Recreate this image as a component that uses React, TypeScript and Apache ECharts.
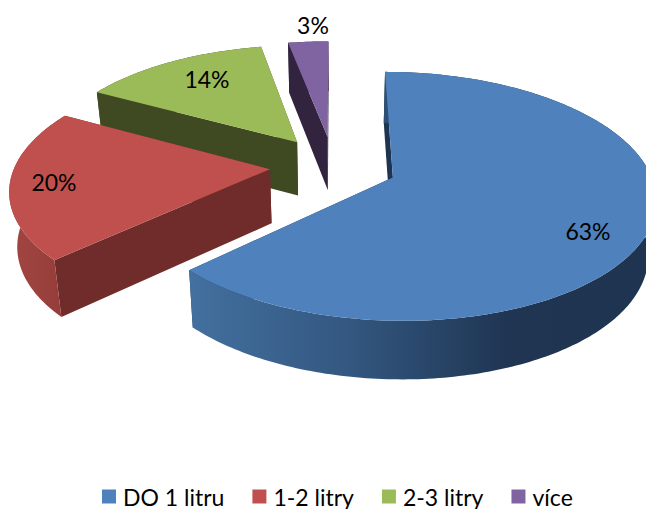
import React, { useEffect, useRef } from "react";
import * as echarts from "echarts";

// Volume categories and their shares in percent.
const categories = ["DO 1 litru", "1-2 litry", "2-3 litry", "více"];
const shares = [63, 20, 14, 3];

const topColors = ["#4F81BD", "#C0504D", "#9BBB59", "#8064A2"];
const wallColors = ["#1E3450", "#6F2C2A", "#3F4A22", "#32243F"];
const labelAnchors = [
  [588, 231],
  [54, 182],
  [207, 79],
  [313, 25],
];

// Tilted-disc projection: pixel radii, perspective strength, explosion, thickness.
const CX = 333.5;
const CY = 165.5;
const RX = 255;
const RY = 118;
const PERSPECTIVE = 0.15;
const EXPLODE = 0.25;
const DEPTH = 54;
const BASE_SHRINK = 0.025;

const total = shares.reduce((a, b) => a + b, 0);

const project = (u: number, v: number) => {
  const w = 1 + PERSPECTIVE * v;
  return [CX + (RX * u) / w, CY - (RY * v) / w, w];
};

const lower = (p: number[]) => [
  CX + (p[0] - CX) * (1 - BASE_SHRINK),
  p[1] + DEPTH / Math.pow(p[2], 0.45),
];

const rimGradient = (index: number) => {
  if (index === 0) {
    return new echarts.graphic.LinearGradient(
      190, 0, 646, 0,
      [
        { offset: 0, color: "#43709F" },
        { offset: 0.35, color: "#335780" },
        { offset: 0.7, color: "#1F3552" },
        { offset: 1, color: "#1E3450" },
      ],
      true
    );
  }
  if (index === 1) {
    return new echarts.graphic.LinearGradient(
      12, 0, 62, 0,
      [
        { offset: 0, color: "#A24542" },
        { offset: 1, color: "#953D3A" },
      ],
      true
    );
  }
  return wallColors[index];
};

const sliceRenderer = (index: number) => (_params: unknown, api: any) => {
  const value = api.value(0);
  const before = shares.slice(0, index).reduce((a, b) => a + b, 0);
  const start = (before / total) * Math.PI * 2;
  const end = start + (value / total) * Math.PI * 2;
  const mid = (start + end) / 2;
  const uc = EXPLODE * Math.sin(mid);
  const vc = EXPLODE * Math.cos(mid);

  const apex = project(uc, vc);
  const steps = Math.max(4, Math.round(((end - start) * 180) / Math.PI));
  const rim: number[][] = [];
  for (let i = 0; i <= steps; i++) {
    const a = start + ((end - start) * i) / steps;
    rim.push(project(uc + Math.sin(a), vc + Math.cos(a)));
  }
  const first = rim[0];
  const last = rim[rim.length - 1];
  const xy = (p: number[]) => [p[0], p[1]];
  const wall = (a: number[], b: number[]) => [xy(a), xy(b), lower(b), lower(a)];

  const polygon = (points: number[][], fill: unknown) => ({
    type: "polygon",
    shape: { points },
    style: { fill },
  });

  return {
    type: "group",
    children: [
      polygon(wall(apex, last), wallColors[index]),
      polygon(wall(apex, first), wallColors[index]),
      polygon([...rim.map(xy), ...rim.map(lower).reverse()], rimGradient(index)),
      polygon([xy(apex), ...rim.map(xy)], topColors[index]),
      {
        type: "text",
        style: {
          text: `${value}%`,
          x: labelAnchors[index][0],
          y: labelAnchors[index][1],
          fill: "#000000",
          font: "23px Lato",
          textAlign: "center",
          textVerticalAlign: "middle",
        },
      },
    ],
  };
};

export default function App() {
  const ref = useRef<HTMLDivElement>(null);

  useEffect(() => {
    const chart = echarts.init(ref.current, undefined, { renderer: "svg" });
    // Painted back to front so nearer slices cover farther ones.
    const order = categories.map((_, i) => i).reverse();
    chart.setOption({
      animation: false,
      backgroundColor: "#ffffff",
      legend: {
        data: categories,
        left: 102,
        top: 485,
        padding: 0,
        icon: "rect",
        itemWidth: 14,
        itemHeight: 14,
        itemGap: 28,
        textStyle: { fontFamily: "Lato", fontSize: 23, lineHeight: 23, color: "#000000", padding: [0, 0, 0, 2] },
      },
      series: order.map((i) => ({
        type: "custom",
        name: categories[i],
        coordinateSystem: "none",
        itemStyle: { color: topColors[i] },
        data: [[shares[i]]],
        renderItem: sliceRenderer(i),
      })),
    });
    return () => chart.dispose();
  }, []);

  return (
    <div
      ref={ref}
      style={{ position: "fixed", left: 0, top: 0, width: 646, height: 509 }}
    />
  );
}
